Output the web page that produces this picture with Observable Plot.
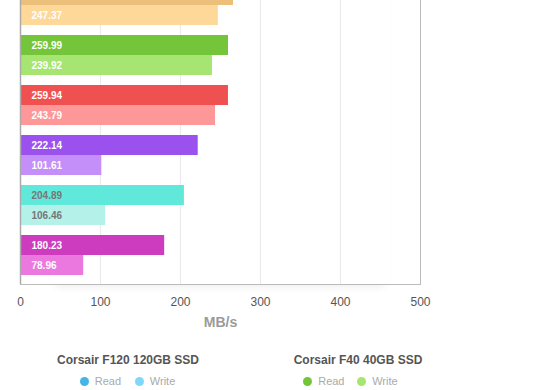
<!DOCTYPE html>
<html><head><meta charset="utf-8">
<script src="https://cdn.jsdelivr.net/npm/d3@7"></script>
<script src="https://cdn.jsdelivr.net/npm/@observablehq/plot@0.6"></script>
<style>
html,body{margin:0;padding:0;background:#fff;overflow:hidden}
#wrap{position:relative;width:560px;height:390px;overflow:hidden;background:#fff;font-family:"Liberation Sans",Arial,Helvetica,sans-serif}
#shadow{position:absolute;left:50px;top:-20px;width:340px;height:304px;box-shadow:0 7px 9px -6px rgba(0,0,0,0.10);background:#fff}
#chart{position:relative}
#chart svg{display:block;margin-top:-30px}
.lgt{position:absolute;transform:translateX(-50%);white-space:nowrap;font-size:12px;font-weight:bold;color:#555;line-height:16px}
.lgi{position:absolute;white-space:nowrap;font-size:11px;color:#aaa;line-height:14px}
.dot{position:absolute;width:9px;height:9px;border-radius:50%}
</style></head><body>
<div id="wrap"><div id="shadow"></div><div id="chart"></div><div id="legend"></div></div>
<script>
// Data (bar groups, top to bottom; the first group is partly cut off at the top)
const drives = ["Drive A", "Corsair F40 40GB SSD", "Drive C", "Drive D", "Drive E", "Drive F"];
const readMBs = [266.25, 259.99, 259.94, 222.14, 204.89, 180.23];
const writeMBs = [247.37, 239.92, 243.79, 101.61, 106.46, 78.96];
const readColors = ["#ecbf7a", "#74c53a", "#ef5151", "#9b51ee", "#60e9db", "#cd3bbf"];
const writeColors = ["#fed899", "#a6e572", "#fe9898", "#c48ff8", "#b3f1e9", "#ea78de"];
const labelColors = ["#fff", "#fff", "#fff", "#fff", "#777", "#fff"];
const xTicks = [0, 100, 200, 300, 400, 500];
const axisLabel = "MB/s";
const legendNames = ["Corsair F120 120GB SSD", "Corsair F40 40GB SSD"];
const legendRead = ["#45b5e8", "#74c53a"];
const legendWrite = ["#80d7fb", "#a6e572"];
const seriesNames = ["Read", "Write"];

const rows = [];
drives.forEach((d, i) => {
  rows.push({drive: d, series: "Read", value: readMBs[i], y1: 5 * i + 0.5, y2: 5 * i + 2.5, color: readColors[i], lc: labelColors[i], shown: i > 0});
  rows.push({drive: d, series: "Write", value: writeMBs[i], y1: 5 * i + 2.5, y2: 5 * i + 4.5, color: writeColors[i], lc: labelColors[i], shown: true});
});

const chart = Plot.plot({
  width: 560, height: 364,
  marginLeft: 20, marginRight: 140, marginTop: 10, marginBottom: 50,
  x: {domain: [0, 500], ticks: xTicks, tickSize: 0, tickPadding: 13, label: null, tickFormat: d3.format("d")},
  y: {domain: [0, 30.4], reverse: true, axis: null},
  color: {type: "identity"},
  style: {fontFamily: "'Liberation Sans', Arial, Helvetica, sans-serif", fontSize: "12px", color: "#555", background: "transparent"},
  marks: [
    Plot.ruleX(xTicks.slice(1, -1), {stroke: "#ebebeb", strokeWidth: 1.2}),
    Plot.rect(rows, {x1: 0, x2: "value", y1: "y1", y2: "y2", fill: "color"}),
    Plot.text(rows.filter(d => d.shown), {x: 0, y: d => (d.y1 + d.y2) / 2, text: d => d.value.toFixed(2), dx: 11, textAnchor: "start", fill: "lc", fontSize: 10, fontWeight: "bold"}),
    Plot.frame({stroke: "#bbb"}),
    Plot.ruleX([0], {stroke: "#aaa", strokeWidth: 1.5}),
    Plot.text([axisLabel], {frameAnchor: "bottom", text: d => d, dy: 42, fill: "#9a9a9a", fontSize: 14, fontWeight: "bold"})
  ]
});
document.getElementById("chart").appendChild(chart);

// Legend (HTML below the chart)
const legend = document.getElementById("legend");
const legendCenters = [128, 358];
const dotX = [[84.3, 139.3], [307.7, 361.7]];
legendNames.forEach((name, i) => {
  const t = document.createElement("div");
  t.className = "lgt"; t.textContent = name;
  t.style.left = legendCenters[i] + "px"; t.style.top = "352px";
  legend.appendChild(t);
  [legendRead[i], legendWrite[i]].forEach((c, j) => {
    const dot = document.createElement("div");
    dot.className = "dot"; dot.style.background = c;
    dot.style.left = (dotX[i][j] - 4.5) + "px"; dot.style.top = (381 - 4.5) + "px";
    legend.appendChild(dot);
    const s = document.createElement("div");
    s.className = "lgi"; s.textContent = seriesNames[j];
    s.style.left = (dotX[i][j] + 10.5) + "px"; s.style.top = (381 - 7) + "px";
    legend.appendChild(s);
  });
});
</script>
</body></html>
